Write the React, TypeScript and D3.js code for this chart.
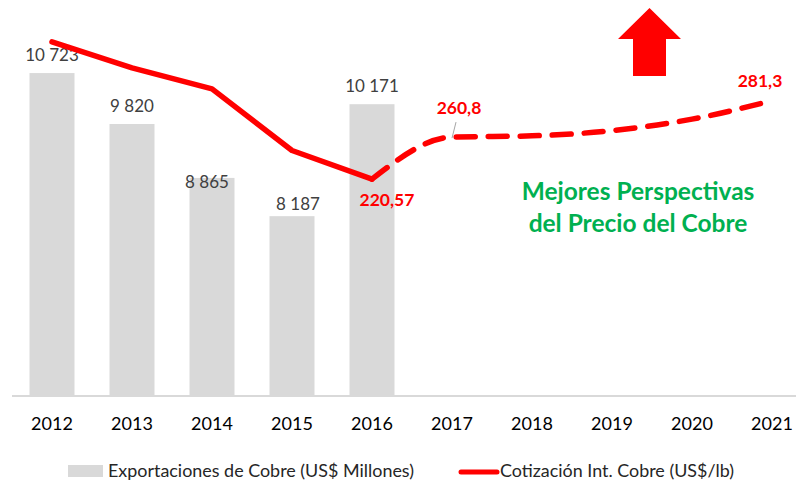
import React from 'react'
import * as d3 from 'd3'

// categories
const years = ['2012', '2013', '2014', '2015', '2016', '2017', '2018', '2019', '2020', '2021']
// copper exports, US$ millions (only 2012-2016)
const exportYears = ['2012', '2013', '2014', '2015', '2016']
const exportValues = [10723, 9820, 8865, 8187, 10171]
const exportLabels = ['10 723', '9 820', '8 865', '8 187', '10 171']
// copper price, US cents/lb (2017+ is projection)
const priceValues = [352, 327, 307, 248, 220.57, 260.8, 262, 267, 278, 295.6]
const priceLabels = ['', '', '', '', '220,57', '260,8', '', '', '', '281,3']
const lastActual = 4

const legendBar = 'Exportaciones de Cobre (US$ Millones)'
const legendLine = 'Cotización Int. Cobre (US$/lb)'
const note = ['Mejores Perspectivas', 'del Precio del Cobre']

const W = 796
const H = 487
const font = 'Lato, "Open Sans", sans-serif'

export default function App() {
  let x = d3.scaleBand().domain(years).range([12, 812]).paddingInner(0.4375).paddingOuter(0.21875)
  let cx = (y: string) => (x(y) as number) + x.bandwidth() / 2
  let yBar = d3.scaleLinear().domain([5000, 12000]).range([396, 1])
  let yPrice = d3.scaleLinear().domain([14, 392]).range([395, 0])

  let pts = priceValues.map((v, i) => [cx(years[i]), yPrice(v)] as [number, number])
  let solid = d3.line().curve(d3.curveLinear)(pts.slice(0, lastActual + 1))
  let dashed = d3.line().curve(d3.curveMonotoneX)(pts.slice(lastActual))

  // manual label nudges, as in the original
  let nudge: Record<string, [number, number]> = { '2014': [-5, 22], '2015': [6, 6] }
  let priceOffset: Record<string, [number, number]> = { '2016': [15, 27], '2017': [7, -23], '2021': [-12, -14] }

  // decorative up arrow
  let ax = 649.5, aTop = 8
  let arrow = `M${ax},${aTop} L${ax + 31.5},${aTop + 31} L${ax + 16.5},${aTop + 31} L${ax + 16.5},${aTop + 68} L${ax - 16.5},${aTop + 68} L${ax - 16.5},${aTop + 31} L${ax - 31.5},${aTop + 31} Z`

  return (
    <svg width={W} height={H} style={{ position: 'absolute', left: 0, top: 0, background: '#fff' }} fontFamily={font}>
      {/* bars */}
      {exportYears.map((yr, i) => (
        <rect key={yr} x={x(yr)} y={yBar(exportValues[i])} width={x.bandwidth()}
          height={yBar(5000) - yBar(exportValues[i])} fill='#d9d9d9' />
      ))}
      {/* axis line */}
      <line x1={12} x2={W} y1={396} y2={396} stroke='#d9d9d9' strokeWidth={2} />
      {years.map(yr => (
        <text key={yr} x={cx(yr)} y={430} textAnchor='middle' fontSize={18} fill='#000'>{yr}</text>
      ))}
      {/* bar labels */}
      {exportYears.map((yr, i) => {
        let n = nudge[yr] || [0, 0]
        return (
          <text key={yr} x={cx(yr) + n[0]} y={yBar(exportValues[i]) - 12 + n[1]} textAnchor='middle'
            fontSize={17} fill='#404040'>{exportLabels[i]}</text>
        )
      })}
      {/* price line */}
      <path d={solid || ''} fill='none' stroke='#ff0000' strokeWidth={5.5} strokeLinejoin='round' strokeLinecap='round' />
      <path d={dashed || ''} fill='none' stroke='#ff0000' strokeWidth={5.5} strokeDasharray='19 13' strokeLinecap='round' />
      {/* leader line for 2017 label */}
      <line x1={pts[5][0]} y1={pts[5][1] + 1} x2={pts[5][0] + 4} y2={pts[5][1] - 15} stroke='#a6a6a6' strokeWidth={1} />
      {years.map((yr, i) => {
        if (!priceLabels[i]) return null
        let o = priceOffset[yr] || [0, -12]
        return (
          <text key={yr} x={pts[i][0] + o[0]} y={pts[i][1] + o[1]} textAnchor='middle' fontSize={17.5}
            fontWeight='bold' fill='#ff0000'>{priceLabels[i]}</text>
        )
      })}
      {/* annotation */}
      <path d={arrow} fill='#ff0000' />
      {note.map((t, i) => (
        <text key={t} x={638} y={200 + i * 32} textAnchor='middle' fontSize={24.5} fontWeight='bold' fill='#00b050'>{t}</text>
      ))}
      {/* legend */}
      <rect x={68} y={465} width={35} height={12} fill='#d9d9d9' />
      <text x={108} y={477} fontSize={17} fill='#262626' textLength={306} lengthAdjust='spacingAndGlyphs'>{legendBar}</text>
      <line x1={461} x2={497} y1={472} y2={472} stroke='#ff0000' strokeWidth={5} strokeLinecap='round' />
      <text x={500} y={477} fontSize={17} fill='#262626' textLength={234} lengthAdjust='spacingAndGlyphs'>{legendLine}</text>
    </svg>
  )
}
